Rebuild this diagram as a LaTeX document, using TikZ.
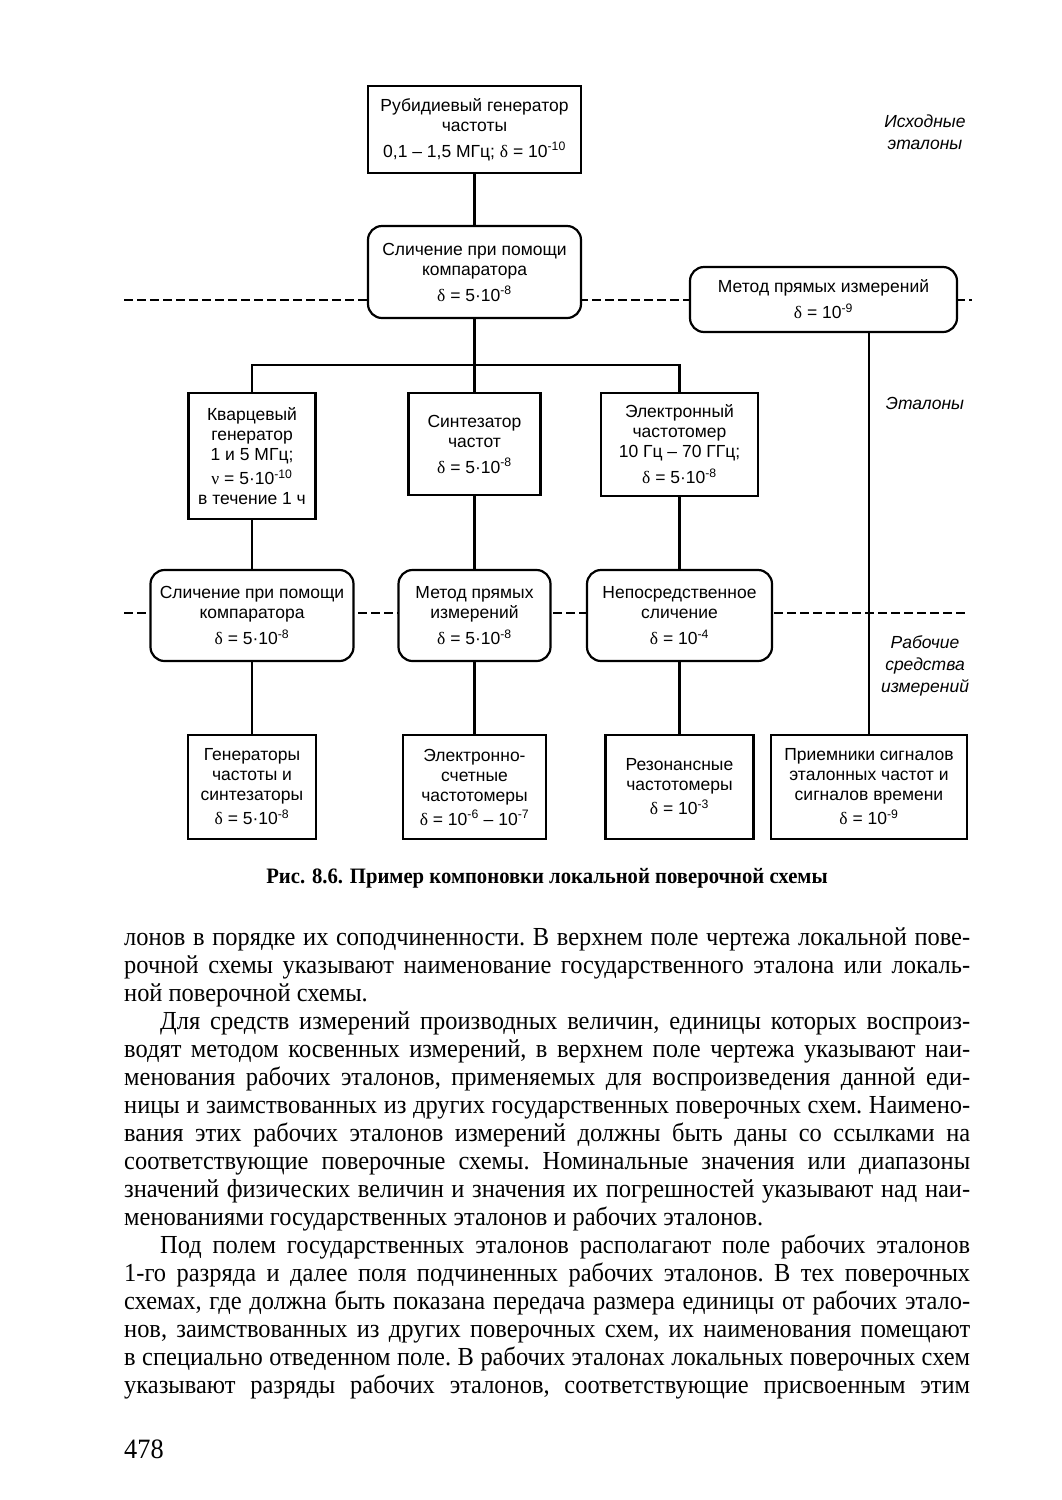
\documentclass[tikz,border=0pt]{standalone}
\usepackage{fontspec}
\setmainfont{Liberation Serif}[FakeStretch=0.94]
\newfontfamily\diagfont{Liberation Sans}
\newfontfamily\grfont{Liberation Serif}
\usetikzlibrary{positioning,backgrounds}
\newcommand{\dlt}{{\grfont δ}}
\newcommand{\tenp}[1]{10\textsuperscript{#1}}
\tikzset{
  stdbox/.style={draw,line width=2.2pt,fill=white,align=center,inner sep=2pt,
                 font=\diagfont\fontsize{17.5}{20}\selectfont},
  methbox/.style={stdbox,rounded corners=14pt},
  link/.style={line width=2.2pt},
  fieldline/.style={line width=1.6pt,dash pattern=on 9pt off 4pt},
  fieldtag/.style={font=\diagfont\itshape\fontsize{17.5}{22}\selectfont,align=center},
  figcap/.style={font=\bfseries\fontsize{22}{26}\selectfont},
  pagetext/.style={font=\fontsize{26}{28}\selectfont,text width=846pt,
                   align=justify,inner sep=0pt,anchor=north west}
}

\begin{document}
\begin{tikzpicture}[x=1pt,y=-1pt]
  \useasboundingbox (0,0) rectangle (1062,1500);

  % top level
  \node[stdbox,minimum width=213pt,minimum height=87pt] (rb) at (474.5,129.5)
    {Рубидиевый генератор\\частоты\\[6pt]0,1 – 1,5 МГц; \dlt{} = \tenp{-10}};
  \node[methbox,minimum width=213pt,minimum height=92pt] (cmp) at (474.5,272)
    {Сличение при помощи\\компаратора\\[6pt]\dlt{} = 5·\tenp{-8}};
  \node[methbox,minimum width=267pt,minimum height=65pt] (direct) at (823.5,299.5)
    {Метод прямых измерений\\[6pt]\dlt{} = \tenp{-9}};

  % working standards
  \node[stdbox,minimum width=127pt,minimum height=126pt] (quartz) at (252,456)
    {Кварцевый\\генератор\\1 и 5 МГц;\\[4pt]{\grfont ν} = 5·\tenp{-10}\\в течение 1 ч};
  \node[stdbox,minimum width=132pt,minimum height=102pt] (synth) at (474.5,444)
    {Синтезатор\\частот\\[6pt]\dlt{} = 5·\tenp{-8}};
  \node[stdbox,minimum width=157pt,minimum height=103pt] (ecount) at (679.5,444.5)
    {Электронный\\частотомер\\10 Гц – 70 ГГц;\\[6pt]\dlt{} = 5·\tenp{-8}};

  % methods
  \node[methbox,minimum width=203pt,minimum height=91pt] (cmp2) at (252,615.5)
    {Сличение при помощи\\компаратора\\[6pt]\dlt{} = 5·\tenp{-8}};
  \node[methbox,minimum width=152pt,minimum height=91pt] (direct2) at (474.5,615.5)
    {Метод прямых\\измерений\\[6pt]\dlt{} = 5·\tenp{-8}};
  \node[methbox,minimum width=185pt,minimum height=91pt] (immed) at (679.5,615.5)
    {Непосредственное\\сличение\\[6pt]\dlt{} = \tenp{-4}};

  % working instruments
  \node[stdbox,minimum width=128pt,minimum height=104pt] (gens) at (252,787)
    {Генераторы\\частоты и\\синтезаторы\\[4pt]\dlt{} = 5·\tenp{-8}};
  \node[stdbox,minimum width=143pt,minimum height=104pt] (counters) at (474.5,787)
    {Электронно-\\счетные\\частотомеры\\[4pt]\dlt{} = \tenp{-6} – \tenp{-7}};
  \node[stdbox,minimum width=148pt,minimum height=104pt] (reson) at (679.5,787)
    {Резонансные\\частотомеры\\[4pt]\dlt{} = \tenp{-3}};
  \node[stdbox,minimum width=196pt,minimum height=104pt] (recv) at (869,787)
    {Приемники сигналов\\эталонных частот и\\сигналов времени\\[4pt]\dlt{} = \tenp{-9}};

  \node[fieldtag] (tag-src) at (925,132) {Исходные\\эталоны};
  \node[fieldtag] (tag-std) at (925,403) {Эталоны};
  \node[fieldtag] (tag-work) at (925,666) {Рабочие\\средства\\измерений};

  \coordinate (split) at (474.5,365);
  \coordinate (f1-l) at (124,300);
  \coordinate (f1-r) at (972,300);
  \coordinate (f2-l) at (124,613);
  \coordinate (f2-r) at (966,613);

  \draw[link] (rb) -- (cmp);
  \draw[link] (cmp) -- (synth);
  \draw[link] (quartz.north) |- (split) -| (ecount.north);
  \draw[link] (quartz) -- (cmp2);
  \draw[link] (synth) -- (direct2);
  \draw[link] (ecount) -- (immed);
  \draw[link] (cmp2) -- (gens);
  \draw[link] (direct2) -- (counters);
  \draw[link] (immed) -- (reson);
  \draw[link] (direct.south -| recv.north) -- (recv.north);

  \begin{scope}[on background layer]
    \draw[fieldline] (f1-l) -- (f1-r);
    \draw[fieldline] (f2-l) -- (f2-r);
  \end{scope}

  \node[figcap] (cap) at (547,878)
    {Рис. 8.6. Пример компоновки локальной поверочной схемы};

  \node[pagetext] (body) at (124,927) {%
    \frenchspacing
    \hyphenpenalty=10000 \exhyphenpenalty=10000 \tolerance=10000
    \parindent=36pt \parskip=0pt
    \noindent лонов в порядке их соподчиненности. В верхнем поле чертежа локальной пове-\linebreak
    рочной схемы указывают наименование государственного эталона  или локаль-\linebreak
    ной поверочной схемы.\par
    Для средств измерений производных величин, единицы которых воспроиз-\linebreak
    водят методом косвенных измерений, в верхнем поле чертежа указывают наи-\linebreak
    менования рабочих эталонов,  применяемых для воспроизведения  данной еди-\linebreak
    ницы и заимствованных из других государственных поверочных схем. Наимено-\linebreak
    вания этих рабочих эталонов измерений должны быть даны со ссылками на\linebreak
    соответствующие поверочные схемы. Номинальные значения или диапазоны\linebreak
    значений физических величин и значения их погрешностей указывают над наи-\linebreak
    менованиями государственных эталонов и рабочих эталонов.\par
    Под полем государственных эталонов располагают поле рабочих эталонов\linebreak
    1-го разряда и далее поля подчиненных рабочих эталонов. В тех поверочных\linebreak
    схемах, где должна быть показана передача размера единицы от рабочих этало-\linebreak
    нов, заимствованных из других поверочных схем, их наименования помещают\linebreak
    в специально отведенном поле. В рабочих эталонах локальных  поверочных схем\linebreak
    указывают разряды рабочих эталонов, соответствующие присвоенным этим%
    {\parfillskip=0pt\par}};

  \node[font=\fontsize{28}{30}\selectfont,anchor=west,inner sep=0pt] (pageno)
    at (124,1449) {478};
\end{tikzpicture}
\end{document}
